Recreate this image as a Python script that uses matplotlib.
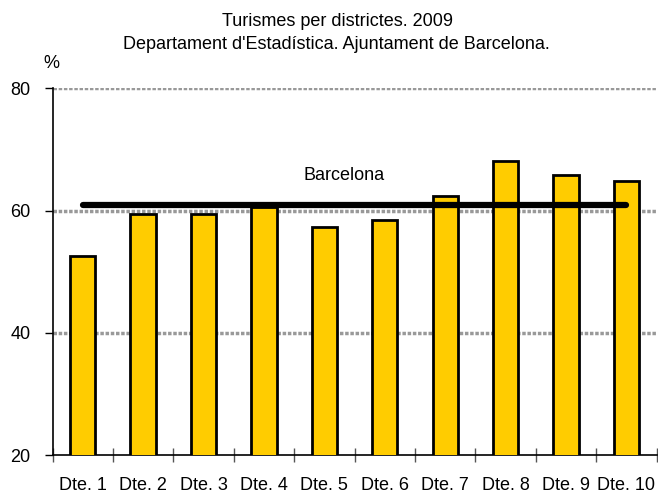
import matplotlib
matplotlib.use("Agg")
import matplotlib.pyplot as plt
import numpy as np

plt.rcParams['font.family'] = ['Liberation Sans', 'DejaVu Sans']

categories = ["Dte. 1", "Dte. 2", "Dte. 3", "Dte. 4", "Dte. 5",
              "Dte. 6", "Dte. 7", "Dte. 8", "Dte. 9", "Dte. 10"]
values = [52.6, 59.4, 59.5, 60.6, 57.3, 58.5, 62.4, 68.1, 65.8, 64.8]
barcelona = 61.0
yticks = [20, 40, 60, 80]

fig = plt.figure(figsize=(6.58, 4.97), dpi=100)
ax = fig.add_axes([0.0798, 0.0845, 0.9182, 0.7375])

x = np.arange(len(categories))
ax.bar(x, values, width=0.42, color="#FFCC00", edgecolor="black", linewidth=2, zorder=3)
ax.plot([x[0], x[-1]], [barcelona, barcelona], color="black", linewidth=4.5,
        solid_capstyle="round", zorder=4)
ax.text(4.33, 65.8, "Barcelona", ha="center", va="center", fontsize=13)

ax.set_xlim(-0.5, len(categories) - 0.5)
ax.set_ylim(20, 80)
ax.set_yticks(yticks)
ax.set_yticklabels([str(t) for t in yticks], fontsize=13)
ax.set_xticks(x)
ax.set_xticklabels(categories, fontsize=13)
ax.tick_params(axis="x", length=0, pad=16)
ax.set_xticks(np.arange(len(categories) + 1) - 0.5, minor=True)
ax.tick_params(axis="x", which="minor", direction="inout", length=10, width=1, color="#555555")
ax.tick_params(axis="y", direction="out", length=6, width=1, pad=10)

for t in [40, 60, 80]:
    ax.axhline(t, color="#999999", linewidth=2.5, linestyle=(0, (1, 0.5)), zorder=1)

for s in ["top", "right"]:
    ax.spines[s].set_visible(False)
ax.spines["left"].set_linewidth(1.2)
ax.spines["bottom"].set_linewidth(1.2)

fig.text(0.513, 0.957, "Turismes per districtes. 2009", ha="center", va="center", fontsize=13)
fig.text(0.511, 0.910, "Departament d'Estadística. Ajuntament de Barcelona.", ha="center", va="center", fontsize=13)
fig.text(51.5 / 658, 1 - 63.5 / 497, "%", ha="center", va="center", fontsize=13)

fig.savefig("out.png", dpi=100)
